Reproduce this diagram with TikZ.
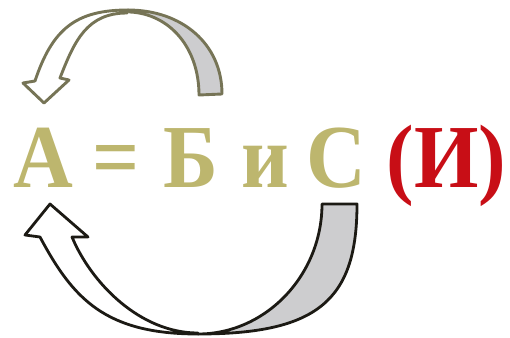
\documentclass[tikz,border=0pt]{standalone}
\usepackage{graphicx}
\usepackage{fontspec}
\setmainfont{Liberation Serif}
\definecolor{txtolive}{RGB}{189,182,110}
\definecolor{txtred}{RGB}{200,14,22}
\definecolor{topline}{RGB}{118,116,86}
\definecolor{botline}{RGB}{28,26,20}
\definecolor{bandgray}{RGB}{205,205,207}
\newcommand{\glyphtxt}[1]{\scalebox{0.92}[1]{#1}}
\tikzset{
  glyph/.style={inner sep=0pt, outer sep=0pt, anchor=base, font=\rmfamily\bfseries\fontsize{90}{90}\selectfont, text=txtolive},
  redglyph/.style={glyph, text=txtred},
  topwhite/.style={draw=topline, fill=white, line width=2.9pt, line join=round},
  topgray/.style={draw=topline, fill=bandgray, line width=2.9pt, line join=round},
  botwhite/.style={draw=botline, fill=white, line width=2.8pt, line join=round},
  botgray/.style={draw=botline, fill=bandgray, line width=2.8pt, line join=round}
}
\begin{document}
\begin{tikzpicture}[x=1pt,y=-1pt]
\useasboundingbox (0,0) rectangle (510,337);
% top arrow
\path[topgray] (128,10) .. controls (182,10) and (222,44) .. (222,94)
  -- (199,95) .. controls (199,48) and (170,14) .. (130,12) -- cycle;
\path[topwhite] (35,81) -- (23,83) -- (44,103) -- (69,80) -- (60,78)
  .. controls (74.5,40.7) and (87,13) .. (127,13)
  -- (128,10) .. controls (76,10) and (52.4,28.8) .. (35,81) -- cycle;
% bottom arrow
\path[botgray] (322,204) .. controls (322,275) and (266,334) .. (198,334)
  .. controls (318,334) and (357,300) .. (357,204) -- cycle;
\path[botwhite] (40,237) -- (25,235) -- (50,204) -- (88,237) -- (72,237)
  .. controls (91.3,283.1) and (140,333) .. (198,333)
  -- (198,334) .. controls (105,334) and (72.9,298.6) .. (40,237) -- cycle;
% text
\node[glyph] (tA) at (43,187) {\glyphtxt{А}};
\node[glyph] (tEq) at (116.5,187) {\glyphtxt{=}};
\node[glyph] (tB) at (190.5,187) {\glyphtxt{Б}};
\node[glyph] (tI) at (265,187) {\glyphtxt{и}};
\node[glyph] (tC) at (336.5,187) {\glyphtxt{С}};
\node[redglyph] (tP) at (446.5,187) {\glyphtxt{(И)}};
\end{tikzpicture}
\end{document}
